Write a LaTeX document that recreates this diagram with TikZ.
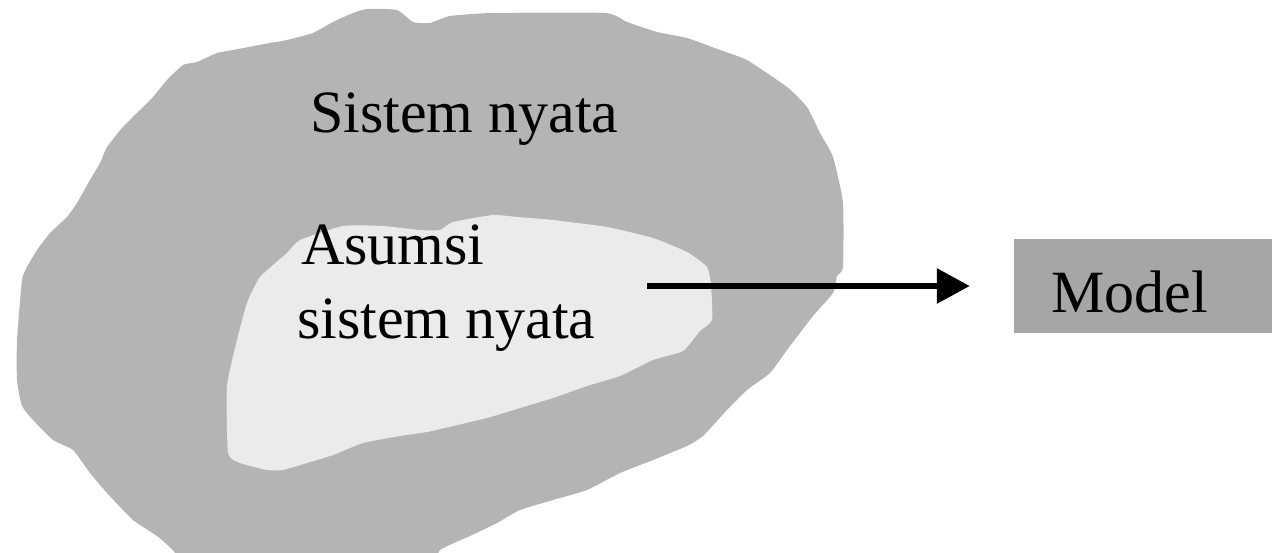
\documentclass[tikz,border=0pt]{standalone}
\usepackage{fontspec}
\setmainfont{Liberation Serif}
\usetikzlibrary{arrows.meta}

\definecolor{outergray}{HTML}{B4B4B4}
\definecolor{innergray}{HTML}{EBEBEB}
\definecolor{boxgray}{HTML}{A6A6A6}

\tikzset{
  label text/.style={inner sep=0pt, anchor=base west, text=black,
    font=\fontsize{60}{73}\selectfont},
  modelbox/.style={rectangle, fill=boxgray, draw=none, inner sep=0pt,
    minimum width=258pt, minimum height=94pt},
  flow/.style={line width=6pt, -{Triangle[length=33pt,width=34pt]}},
}

\begin{document}
\begin{tikzpicture}[x=1pt, y=-1pt]
\useasboundingbox (0,0) rectangle (1272,553);

% real system (outer region)
\fill[outergray] plot[smooth cycle, tension=0.3] coordinates {
  (333,22) (353,13) (367,9) (397,10) (413,22) (430,23) (450,16) (492,13)
  (605,13) (627,22) (657,32) (687,38) (720,50) (747,60) (787,87) (807,107)
  (820,133) (833,157) (843,203) (843,267) (837,276) (833,293) (813,316)
  (787,350) (770,373) (747,390) (727,410) (703,436) (687,446) (653,460)
  (620,473) (587,490) (553,500) (520,510) (497,523) (470,536) (440,550)
  (420,575) (200,575) (173,550) (157,536) (133,520) (107,493) (90,473)
  (73,450) (53,440) (33,420) (22,406) (17,380) (17,340) (22,280) (27,267)
  (37,250) (50,233) (67,217) (77,203) (90,180) (100,163) (107,147)
  (123,127) (140,110) (153,97) (167,80) (183,65) (197,62) (217,53)
  (233,50) (270,43) (287,40) (313,33)};

% assumed real system (inner region)
\fill[innergray] plot[smooth cycle, tension=0.3] coordinates {
  (343,226) (383,226) (420,230) (440,230) (453,222) (493,215) (517,217)
  (553,220) (607,227) (653,238) (687,252) (707,267) (711,285) (712,320)
  (700,331) (683,351) (653,360) (620,376) (587,386) (553,398) (520,408)
  (487,418) (453,426) (427,432) (400,436) (363,443) (333,455) (307,463)
  (283,470) (267,470) (240,463) (228,453) (227,386) (237,340) (247,303)
  (260,277) (287,253) (300,240)};

\node[label text] (sistem) at (310,133) {Sistem nyata};
\node[label text] (asumsi1) at (301,265) {Asumsi};
\node[label text] (asumsi2) at (297,338) {sistem nyata};

\node[modelbox] (model) at (1143,286) {};
\node[label text] (modeltext) at (1051,313) {Model};

\coordinate (src) at (647,286);
\draw[flow, shorten >=44pt] (src) -- (model.west);
\end{tikzpicture}
\end{document}
